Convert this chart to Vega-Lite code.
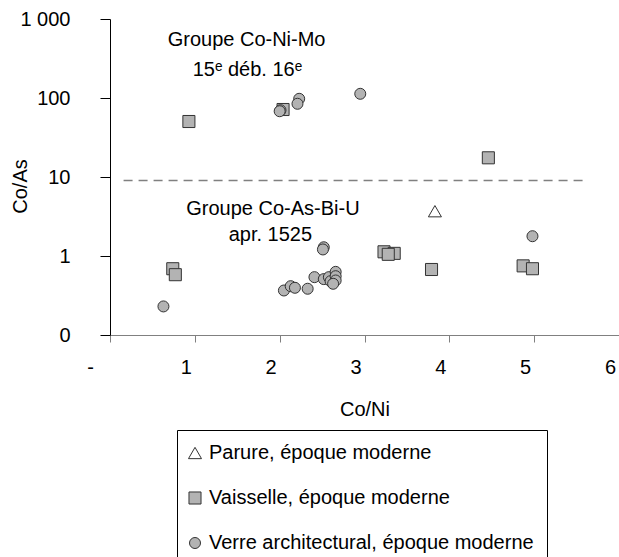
{
  "$schema": "https://vega.github.io/schema/vega-lite/v6.json",
  "width": 509,
  "height": 316,
  "autosize": {"type": "none"},
  "padding": {"left": 110, "top": 19, "right": 0, "bottom": 222},
  "background": "white",
  "config": {
    "view": {"stroke": null},
    "font": "Liberation Sans",
    "axis": {"grid": false, "labelFontSize": 20, "titleFontSize": 20, "titleFontWeight": "normal", "labelColor": "black", "titleColor": "black", "labelFont": "Liberation Sans", "titleFont": "Liberation Sans"},
    "legend": {
      "labelFont": "Liberation Sans",
      "title": null,
      "orient": "none",
      "legendX": 67,
      "legendY": 411,
      "strokeColor": "black",
      "fillColor": "white",
      "padding": 13,
      "rowPadding": 25,
      "labelFontSize": 20,
      "labelColor": "black",
      "labelLimit": 0,
      "labelOffset": 4,
      "symbolOffset": -5,
      "symbolStrokeWidth": 1
    }
  },
  "datasets": {
    "points": [
      {"x": 3.83, "y": 3.69, "type": "Parure, époque moderne"},
      {"x": 0.93, "y": 50.4, "type": "Vaisselle, époque moderne"},
      {"x": 2.04, "y": 71.5, "type": "Vaisselle, époque moderne"},
      {"x": 4.46, "y": 17.5, "type": "Vaisselle, époque moderne"},
      {"x": 3.23, "y": 1.13, "type": "Vaisselle, époque moderne"},
      {"x": 3.35, "y": 1.08, "type": "Vaisselle, époque moderne"},
      {"x": 3.28, "y": 1.05, "type": "Vaisselle, époque moderne"},
      {"x": 3.79, "y": 0.675, "type": "Vaisselle, époque moderne"},
      {"x": 4.87, "y": 0.75, "type": "Vaisselle, époque moderne"},
      {"x": 4.98, "y": 0.69, "type": "Vaisselle, époque moderne"},
      {"x": 0.74, "y": 0.69, "type": "Vaisselle, époque moderne"},
      {"x": 0.77, "y": 0.58, "type": "Vaisselle, époque moderne"},
      {"x": 2.01, "y": 70, "type": "Verre architectural, époque moderne"},
      {"x": 2.0, "y": 68, "type": "Verre architectural, époque moderne"},
      {"x": 2.23, "y": 97.7, "type": "Verre architectural, époque moderne"},
      {"x": 2.21, "y": 84.5, "type": "Verre architectural, époque moderne"},
      {"x": 2.95, "y": 113, "type": "Verre architectural, époque moderne"},
      {"x": 4.98, "y": 1.78, "type": "Verre architectural, époque moderne"},
      {"x": 2.52, "y": 1.29, "type": "Verre architectural, époque moderne"},
      {"x": 2.51, "y": 1.21, "type": "Verre architectural, époque moderne"},
      {"x": 0.63, "y": 0.23, "type": "Verre architectural, époque moderne"},
      {"x": 2.05, "y": 0.366, "type": "Verre architectural, époque moderne"},
      {"x": 2.13, "y": 0.415, "type": "Verre architectural, époque moderne"},
      {"x": 2.18, "y": 0.396, "type": "Verre architectural, époque moderne"},
      {"x": 2.33, "y": 0.385, "type": "Verre architectural, époque moderne"},
      {"x": 2.41, "y": 0.54, "type": "Verre architectural, époque moderne"},
      {"x": 2.52, "y": 0.51, "type": "Verre architectural, époque moderne"},
      {"x": 2.58, "y": 0.54, "type": "Verre architectural, époque moderne"},
      {"x": 2.6, "y": 0.48, "type": "Verre architectural, époque moderne"},
      {"x": 2.66, "y": 0.63, "type": "Verre architectural, époque moderne"},
      {"x": 2.66, "y": 0.555, "type": "Verre architectural, époque moderne"},
      {"x": 2.66, "y": 0.49, "type": "Verre architectural, époque moderne"},
      {"x": 2.63, "y": 0.445, "type": "Verre architectural, époque moderne"}
    ],
    "threshold": [
      {"x": 0.16, "y": 9},
      {"x": 5.6, "y": 9}
    ],
    "notes": [
      {"x": 1.61, "y": 539, "label": "Groupe Co-Ni-Mo"},
      {"x": 1.62, "y": 229, "label": "15ᵉ déb. 16ᵉ"},
      {"x": 1.92, "y": 3.88, "label": "Groupe Co-As-Bi-U"},
      {"x": 1.89, "y": 1.87, "label": "apr. 1525"}
    ]
  },
  "layer": [
    {
      "data": {"name": "threshold"},
      "mark": {"type": "line", "color": "#808080", "strokeWidth": 1.5, "strokeDash": [9, 6]},
      "encoding": {
        "x": {"field": "x", "type": "quantitative"},
        "y": {"field": "y", "type": "quantitative"}
      }
    },
    {
      "data": {"name": "points"},
      "mark": {"type": "point", "filled": true, "strokeWidth": 1, "opacity": 1},
      "encoding": {
        "x": {
          "field": "x", "type": "quantitative",
          "scale": {"domain": [0, 6], "nice": false, "zero": false},
          "axis": {
            "title": "Co/Ni",
            "values": [0, 1, 2, 3, 4, 5, 6],
            "labelExpr": "datum.value == 0 ? '-' : format(datum.value, 'd')",
            "labelOffset": {"condition": {"test": "datum.value == 0", "value": -20}, "value": -9},
            "domainColor": "#808080",
            "tickColor": "#808080",
            "tickSize": 7,
            "labelPadding": 15,
            "labelBaseline": "top",
            "labelFlush": false,
            "labelOverlap": false,
            "labelBound": false,
            "titleY": 74,
            "titleBaseline": "middle"
          }
        },
        "y": {
          "field": "y", "type": "quantitative",
          "scale": {"type": "log", "domain": [0.1, 1000], "nice": false},
          "axis": {
            "title": "Co/As",
            "values": [0.1, 1, 10, 100, 1000],
            "labelExpr": "datum.value < 0.5 ? '0' : datum.value > 500 ? '1 000' : datum.label",
            "domainColor": "black",
            "tickColor": "black",
            "tickSize": 10,
            "labelPadding": 30,
            "labelOverlap": false,
            "titleX": -90,
            "titleY": 167,
            "titleBaseline": "middle"
          }
        },
        "shape": {
          "field": "type", "type": "nominal",
          "scale": {"domain": ["Parure, époque moderne", "Vaisselle, époque moderne", "Verre architectural, époque moderne"], "range": ["triangle-up", "square", "circle"]}
        },
        "fill": {
          "field": "type", "type": "nominal",
          "scale": {"domain": ["Parure, époque moderne", "Vaisselle, époque moderne", "Verre architectural, époque moderne"], "range": ["white", "#b3b3b3", "#b3b3b3"]}
        },
        "stroke": {
          "field": "type", "type": "nominal",
          "scale": {"domain": ["Parure, époque moderne", "Vaisselle, époque moderne", "Verre architectural, époque moderne"], "range": ["#333333", "#333333", "#333333"]}
        },
        "size": {
          "field": "type", "type": "nominal",
          "scale": {"domain": ["Parure, époque moderne", "Vaisselle, époque moderne", "Verre architectural, époque moderne"], "range": [170, 121, 115]}
        }
      }
    },
    {
      "data": {"name": "notes"},
      "mark": {"type": "text", "fontSize": 20, "color": "black", "align": "center", "baseline": "middle"},
      "encoding": {
        "x": {"field": "x", "type": "quantitative"},
        "y": {"field": "y", "type": "quantitative"},
        "text": {"field": "label", "type": "nominal"}
      }
    }
  ]
}
